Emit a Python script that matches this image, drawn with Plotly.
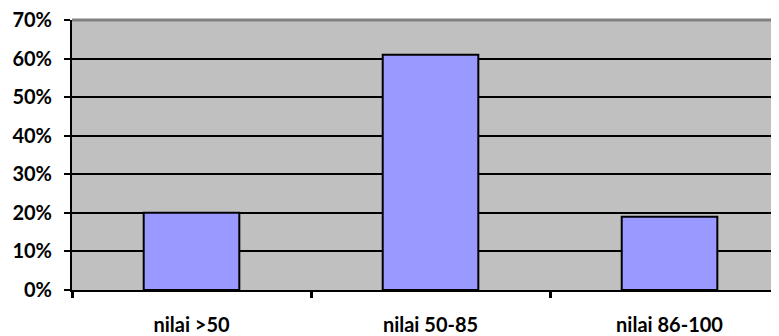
import plotly.graph_objects as go

categories = ["nilai >50", "nilai 50-85", "nilai 86-100"]
values = [0.20, 0.61, 0.19]
y_ticks = [0, 0.1, 0.2, 0.3, 0.4, 0.5, 0.6, 0.7]
y_tick_labels = ["0%", "10%", "20%", "30%", "40%", "50%", "60%", "70%"]

FONT = "Lato"

fig = go.Figure(
    go.Bar(
        x=categories,
        y=values,
        width=0.4,
        marker=dict(color="#9999FF", line=dict(color="black", width=2)),
    )
)

# the page body has an 8px default margin, so the figure is shrunk/offset to compensate
fig.update_layout(
    width=771,
    height=328,
    margin=dict(l=64, r=0, t=12, b=46),
    paper_bgcolor="white",
    plot_bgcolor="#C0C0C0",
    showlegend=False,
    font=dict(family=FONT, size=20, color="black"),
    xaxis=dict(
        type="category",
        range=[-0.5, 2.458],
        automargin=False,
        tickson="boundaries",
        ticks="outside",
        ticklen=6,
        tickwidth=2.5,
        tickcolor="black",
        showline=True,
        linecolor="black",
        linewidth=2,
        showgrid=False,
        tickfont=dict(family=FONT, size=20, color="black", weight="bold"),
        ticklabelstandoff=16,
        ticklabeloverflow="allow",
    ),
    yaxis=dict(
        range=[0, 0.7],
        automargin=False,
        tickvals=y_ticks,
        ticktext=y_tick_labels,
        ticks="outside",
        ticklen=6,
        tickwidth=2,
        tickcolor="black",
        showline=True,
        linecolor="black",
        linewidth=2,
        showgrid=True,
        gridcolor="black",
        gridwidth=2,
        zeroline=False,
        tickfont=dict(family=FONT, size=20, color="black", weight="bold"),
        ticklabelstandoff=8,
        ticklabeloverflow="allow",
    ),
    shapes=[
        dict(type="line", xref="paper", yref="paper", x0=0, x1=1, y0=1, y1=1,
             line=dict(color="#808080", width=3), layer="above"),
    ],
)

fig.write_html("out.html")
